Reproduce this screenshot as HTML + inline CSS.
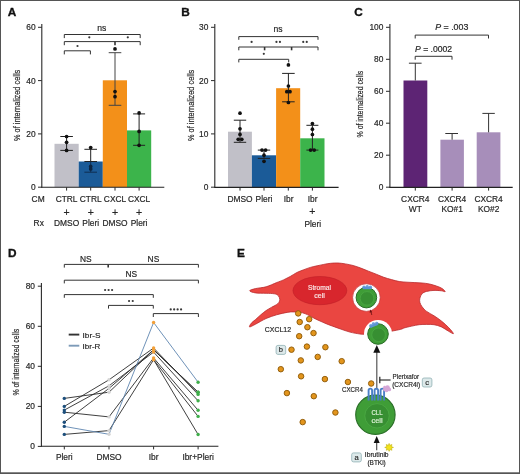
<!DOCTYPE html>
<html><head><meta charset="utf-8"><style>
html,body{margin:0;padding:0;background:#fff;}
#wrap{position:relative;width:520px;height:474px;overflow:hidden;background:#fff;}
svg{position:absolute;left:0;top:0;will-change:transform;}
text{font-family:"Liberation Sans", sans-serif;}
.t{stroke-width:0.18px;}
</style></head><body><div id="wrap">
<svg width="520" height="474" viewBox="0 0 520 474">
<rect x="0" y="0" width="520" height="474" fill="#fff"/>
<text x="7.8" y="15.6" font-size="11.8" text-anchor="start" fill="#111" font-weight="bold" stroke="#111" stroke-width="0.35">A</text>
<line x1="41.8" y1="24" x2="41.8" y2="187.7" stroke="#2a2a2a" stroke-width="1.1"/>
<line x1="38" y1="27.3" x2="41.8" y2="27.3" stroke="#2a2a2a" stroke-width="1"/>
<text x="35.6" y="30.3" font-size="8.4" text-anchor="end" fill="#262626" font-weight="normal" stroke="#262626" stroke-width="0.18" >60</text>
<line x1="38" y1="80.6" x2="41.8" y2="80.6" stroke="#2a2a2a" stroke-width="1"/>
<text x="35.6" y="83.6" font-size="8.4" text-anchor="end" fill="#262626" font-weight="normal" stroke="#262626" stroke-width="0.18" >40</text>
<line x1="38" y1="133.9" x2="41.8" y2="133.9" stroke="#2a2a2a" stroke-width="1"/>
<text x="35.6" y="136.9" font-size="8.4" text-anchor="end" fill="#262626" font-weight="normal" stroke="#262626" stroke-width="0.18" >20</text>
<line x1="38" y1="187.2" x2="41.8" y2="187.2" stroke="#2a2a2a" stroke-width="1"/>
<text x="35.6" y="190.2" font-size="8.4" text-anchor="end" fill="#262626" font-weight="normal" stroke="#262626" stroke-width="0.18" >0</text>
<text transform="translate(20.0,105.4) rotate(-90)" font-size="8.8" text-anchor="middle" fill="#262626" stroke="#262626" stroke-width="0.18" textLength="71.2" lengthAdjust="spacingAndGlyphs">% of internalized cells</text>
<rect x="54.5" y="143.8" width="24.2" height="43.39999999999998" fill="#c1c0c8" />
<rect x="78.7" y="161.5" width="24.1" height="25.69999999999999" fill="#1b5b98" />
<rect x="102.8" y="80.3" width="24.2" height="106.89999999999999" fill="#f39019" />
<rect x="127.0" y="130.4" width="24.2" height="56.79999999999998" fill="#3cb44b" />
<line x1="41.3" y1="187.3" x2="164.3" y2="187.3" stroke="#222" stroke-width="1.1"/>
<line x1="66.6" y1="187.3" x2="66.6" y2="190.6" stroke="#2a2a2a" stroke-width="1"/>
<line x1="90.7" y1="187.3" x2="90.7" y2="190.6" stroke="#2a2a2a" stroke-width="1"/>
<line x1="115" y1="187.3" x2="115" y2="190.6" stroke="#2a2a2a" stroke-width="1"/>
<line x1="139.1" y1="187.3" x2="139.1" y2="190.6" stroke="#2a2a2a" stroke-width="1"/>
<line x1="66.6" y1="136.5" x2="66.6" y2="150.4" stroke="#222" stroke-width="1"/>
<line x1="60.3" y1="136.5" x2="72.89999999999999" y2="136.5" stroke="#222" stroke-width="1"/>
<line x1="60.3" y1="150.4" x2="72.89999999999999" y2="150.4" stroke="#222" stroke-width="1"/>
<circle cx="66.6" cy="136.5" r="1.85" fill="#111" />
<circle cx="66.6" cy="142.3" r="1.85" fill="#111" />
<circle cx="66.6" cy="150.4" r="1.85" fill="#111" />
<line x1="90.7" y1="149.3" x2="90.7" y2="161.5" stroke="#222" stroke-width="1"/>
<line x1="84.4" y1="149.3" x2="97.0" y2="149.3" stroke="#222" stroke-width="1"/>
<line x1="84.4" y1="161.5" x2="97.0" y2="161.5" stroke="#222" stroke-width="1"/>
<line x1="90.7" y1="161.5" x2="90.7" y2="172.2" stroke="#0f2e50" stroke-width="1"/>
<line x1="84.4" y1="172.2" x2="97" y2="172.2" stroke="#0f2e50" stroke-width="1"/>
<circle cx="90.7" cy="147.6" r="1.85" fill="#111" />
<circle cx="90.7" cy="166.4" r="1.85" fill="#0c2440" />
<circle cx="90.7" cy="169.0" r="1.85" fill="#0c2440" />
<line x1="115" y1="52.7" x2="115" y2="105.3" stroke="#444" stroke-width="1"/>
<line x1="108.7" y1="52.7" x2="121.3" y2="52.7" stroke="#444" stroke-width="1"/>
<line x1="108.7" y1="105.3" x2="121.3" y2="105.3" stroke="#444" stroke-width="1"/>
<circle cx="115" cy="48.9" r="1.85" fill="#111" />
<circle cx="115" cy="91.6" r="1.85" fill="#111" />
<circle cx="115" cy="96.7" r="1.85" fill="#111" />
<line x1="139.1" y1="113.9" x2="139.1" y2="145.3" stroke="#222" stroke-width="1"/>
<line x1="133.1" y1="113.9" x2="145.1" y2="113.9" stroke="#222" stroke-width="1"/>
<line x1="133.1" y1="145.3" x2="145.1" y2="145.3" stroke="#222" stroke-width="1"/>
<circle cx="139.1" cy="112.9" r="1.85" fill="#111" />
<circle cx="139.1" cy="131.4" r="1.85" fill="#111" />
<circle cx="139.1" cy="145.3" r="1.85" fill="#111" />
<text x="101.8" y="31.1" font-size="8.6" text-anchor="middle" fill="#262626" font-weight="normal" stroke="#262626" stroke-width="0.18" >ns</text>
<polyline points="64.3,38.1 64.3,34.5 140.2,34.5 140.2,38.1" stroke="#333" stroke-width="1" fill="none" />
<circle cx="89.3" cy="37.3" r="1.1" fill="#383838" />
<circle cx="127.8" cy="37.3" r="1.1" fill="#383838" />
<polyline points="64.3,45.2 64.3,41.6 140.2,41.6 140.2,45.2" stroke="#333" stroke-width="1" fill="none" />
<line x1="115" y1="41.6" x2="115" y2="45.2" stroke="#333" stroke-width="1.6"/>
<circle cx="77.5" cy="46.0" r="1.1" fill="#383838" />
<polyline points="64.3,54.4 64.3,50.8 90.4,50.8 90.4,54.4" stroke="#333" stroke-width="1" fill="none" />
<text x="31.6" y="201.5" font-size="8.4" text-anchor="start" fill="#262626" font-weight="normal" stroke="#262626" stroke-width="0.18" >CM</text>
<text x="33.6" y="226.1" font-size="8.4" text-anchor="start" fill="#262626" font-weight="normal" stroke="#262626" stroke-width="0.18" >Rx</text>
<text x="66.6" y="201.5" font-size="8.4" text-anchor="middle" fill="#262626" font-weight="normal" stroke="#262626" stroke-width="0.18" >CTRL</text>
<text x="66.6" y="215.6" font-size="10.5" text-anchor="middle" fill="#262626" font-weight="normal" stroke="#262626" stroke-width="0.18" >+</text>
<text x="66.6" y="226.1" font-size="8.4" text-anchor="middle" fill="#262626" font-weight="normal" stroke="#262626" stroke-width="0.18" >DMSO</text>
<text x="90.7" y="201.5" font-size="8.4" text-anchor="middle" fill="#262626" font-weight="normal" stroke="#262626" stroke-width="0.18" >CTRL</text>
<text x="90.7" y="215.6" font-size="10.5" text-anchor="middle" fill="#262626" font-weight="normal" stroke="#262626" stroke-width="0.18" >+</text>
<text x="90.7" y="226.1" font-size="8.4" text-anchor="middle" fill="#262626" font-weight="normal" stroke="#262626" stroke-width="0.18" >Pleri</text>
<text x="115" y="201.5" font-size="8.4" text-anchor="middle" fill="#262626" font-weight="normal" stroke="#262626" stroke-width="0.18" >CXCL</text>
<text x="115" y="215.6" font-size="10.5" text-anchor="middle" fill="#262626" font-weight="normal" stroke="#262626" stroke-width="0.18" >+</text>
<text x="115" y="226.1" font-size="8.4" text-anchor="middle" fill="#262626" font-weight="normal" stroke="#262626" stroke-width="0.18" >DMSO</text>
<text x="139.1" y="201.5" font-size="8.4" text-anchor="middle" fill="#262626" font-weight="normal" stroke="#262626" stroke-width="0.18" >CXCL</text>
<text x="139.1" y="215.6" font-size="10.5" text-anchor="middle" fill="#262626" font-weight="normal" stroke="#262626" stroke-width="0.18" >+</text>
<text x="139.1" y="226.1" font-size="8.4" text-anchor="middle" fill="#262626" font-weight="normal" stroke="#262626" stroke-width="0.18" >Pleri</text>
<text x="181.3" y="16.1" font-size="11.8" text-anchor="start" fill="#111" font-weight="bold" stroke="#111" stroke-width="0.35">B</text>
<line x1="214.8" y1="24" x2="214.8" y2="187.7" stroke="#2a2a2a" stroke-width="1.1"/>
<line x1="211" y1="27.3" x2="214.8" y2="27.3" stroke="#2a2a2a" stroke-width="1"/>
<text x="208.4" y="30.3" font-size="8.4" text-anchor="end" fill="#262626" font-weight="normal" stroke="#262626" stroke-width="0.18" >30</text>
<line x1="211" y1="80.6" x2="214.8" y2="80.6" stroke="#2a2a2a" stroke-width="1"/>
<text x="208.4" y="83.6" font-size="8.4" text-anchor="end" fill="#262626" font-weight="normal" stroke="#262626" stroke-width="0.18" >20</text>
<line x1="211" y1="133.9" x2="214.8" y2="133.9" stroke="#2a2a2a" stroke-width="1"/>
<text x="208.4" y="136.9" font-size="8.4" text-anchor="end" fill="#262626" font-weight="normal" stroke="#262626" stroke-width="0.18" >10</text>
<line x1="211" y1="187.2" x2="214.8" y2="187.2" stroke="#2a2a2a" stroke-width="1"/>
<text x="208.4" y="190.2" font-size="8.4" text-anchor="end" fill="#262626" font-weight="normal" stroke="#262626" stroke-width="0.18" >0</text>
<text transform="translate(193.9,105.4) rotate(-90)" font-size="8.8" text-anchor="middle" fill="#262626" stroke="#262626" stroke-width="0.18" textLength="71.2" lengthAdjust="spacingAndGlyphs">% of internalized cells</text>
<rect x="228.0" y="131.7" width="23.9" height="55.5" fill="#c1c0c8" />
<rect x="251.9" y="155.3" width="24.2" height="31.899999999999977" fill="#1b5b98" />
<rect x="276.1" y="88.2" width="24.1" height="98.99999999999999" fill="#f39019" />
<rect x="300.2" y="138.3" width="24.3" height="48.89999999999998" fill="#3cb44b" />
<line x1="214.3" y1="187.4" x2="338.6" y2="187.4" stroke="#222" stroke-width="1.1"/>
<line x1="240" y1="187.4" x2="240" y2="190.6" stroke="#2a2a2a" stroke-width="1"/>
<line x1="264" y1="187.4" x2="264" y2="190.6" stroke="#2a2a2a" stroke-width="1"/>
<line x1="288.3" y1="187.4" x2="288.3" y2="190.6" stroke="#2a2a2a" stroke-width="1"/>
<line x1="312.4" y1="187.4" x2="312.4" y2="190.6" stroke="#2a2a2a" stroke-width="1"/>
<line x1="240" y1="120.2" x2="240" y2="142.3" stroke="#222" stroke-width="1"/>
<line x1="233.8" y1="120.2" x2="246.2" y2="120.2" stroke="#222" stroke-width="1"/>
<line x1="233.8" y1="142.3" x2="246.2" y2="142.3" stroke="#222" stroke-width="1"/>
<circle cx="240" cy="113.2" r="1.85" fill="#111" />
<circle cx="240" cy="128.8" r="1.85" fill="#111" />
<circle cx="240" cy="134.4" r="1.85" fill="#111" />
<circle cx="238.2" cy="139.3" r="1.85" fill="#111" />
<circle cx="241.8" cy="139.3" r="1.85" fill="#111" />
<line x1="264" y1="150.1" x2="264" y2="158.4" stroke="#222" stroke-width="1"/>
<line x1="257.8" y1="150.1" x2="270.2" y2="150.1" stroke="#222" stroke-width="1"/>
<line x1="257.8" y1="158.4" x2="270.2" y2="158.4" stroke="#222" stroke-width="1"/>
<circle cx="262" cy="150.1" r="1.85" fill="#111" />
<circle cx="265.6" cy="150.1" r="1.85" fill="#111" />
<circle cx="264" cy="155.2" r="1.85" fill="#111" />
<circle cx="264" cy="161.3" r="1.85" fill="#111" />
<line x1="288.4" y1="73.4" x2="288.4" y2="101.8" stroke="#222" stroke-width="1"/>
<line x1="282.09999999999997" y1="73.4" x2="294.7" y2="73.4" stroke="#222" stroke-width="1"/>
<line x1="282.09999999999997" y1="101.8" x2="294.7" y2="101.8" stroke="#222" stroke-width="1"/>
<circle cx="288.4" cy="64.9" r="1.85" fill="#111" />
<circle cx="288.4" cy="86.0" r="1.85" fill="#111" />
<circle cx="286.8" cy="91.7" r="1.85" fill="#111" />
<circle cx="290" cy="91.7" r="1.85" fill="#111" />
<circle cx="288.4" cy="102.5" r="1.85" fill="#111" />
<line x1="312.4" y1="125.3" x2="312.4" y2="150.1" stroke="#222" stroke-width="1"/>
<line x1="306.4" y1="125.3" x2="318.4" y2="125.3" stroke="#222" stroke-width="1"/>
<line x1="306.4" y1="150.1" x2="318.4" y2="150.1" stroke="#222" stroke-width="1"/>
<circle cx="312.4" cy="123.5" r="1.85" fill="#111" />
<circle cx="312.4" cy="129.2" r="1.85" fill="#111" />
<circle cx="312.4" cy="134.5" r="1.85" fill="#111" />
<circle cx="310.6" cy="150.1" r="1.85" fill="#111" />
<circle cx="314.2" cy="150.1" r="1.85" fill="#111" />
<text x="278" y="32.2" font-size="8.6" text-anchor="middle" fill="#262626" font-weight="normal" stroke="#262626" stroke-width="0.18" >ns</text>
<polyline points="238.8,39.800000000000004 238.8,36.6 318,36.6 318,39.800000000000004" stroke="#333" stroke-width="1" fill="none" />
<circle cx="251.6" cy="41.9" r="1.1" fill="#383838" />
<circle cx="276.45" cy="41.9" r="1.1" fill="#383838" />
<circle cx="279.95" cy="41.9" r="1.1" fill="#383838" />
<circle cx="303.25" cy="41.9" r="1.1" fill="#383838" />
<circle cx="306.75" cy="41.9" r="1.1" fill="#383838" />
<polyline points="238.8,50.3 238.8,47 318,47 318,50.3" stroke="#333" stroke-width="1" fill="none" />
<line x1="264.6" y1="47" x2="264.6" y2="50.3" stroke="#333" stroke-width="1.6"/>
<line x1="291.6" y1="47" x2="291.6" y2="50.3" stroke="#333" stroke-width="1.6"/>
<circle cx="263.8" cy="53.8" r="1.1" fill="#383838" />
<polyline points="238.8,62.4 238.8,59.3 288.7,59.3 288.7,62.4" stroke="#333" stroke-width="1" fill="none" />
<text x="240" y="202" font-size="8.4" text-anchor="middle" fill="#262626" font-weight="normal" stroke="#262626" stroke-width="0.18" >DMSO</text>
<text x="264" y="202" font-size="8.4" text-anchor="middle" fill="#262626" font-weight="normal" stroke="#262626" stroke-width="0.18" >Pleri</text>
<text x="288.6" y="202" font-size="8.4" text-anchor="middle" fill="#262626" font-weight="normal" stroke="#262626" stroke-width="0.18" >Ibr</text>
<text x="312.6" y="202" font-size="8.4" text-anchor="middle" fill="#262626" font-weight="normal" stroke="#262626" stroke-width="0.18" >Ibr</text>
<text x="312.4" y="215.3" font-size="10.5" text-anchor="middle" fill="#262626" font-weight="normal" stroke="#262626" stroke-width="0.18" >+</text>
<text x="312.8" y="226.8" font-size="8.4" text-anchor="middle" fill="#262626" font-weight="normal" stroke="#262626" stroke-width="0.18" >Pleri</text>
<text x="354.3" y="16.2" font-size="11.8" text-anchor="start" fill="#111" font-weight="bold" stroke="#111" stroke-width="0.35">C</text>
<line x1="389.9" y1="24" x2="389.9" y2="187.7" stroke="#2a2a2a" stroke-width="1.1"/>
<line x1="386" y1="27.3" x2="389.9" y2="27.3" stroke="#2a2a2a" stroke-width="1"/>
<text x="383.4" y="30.3" font-size="8.4" text-anchor="end" fill="#262626" font-weight="normal" stroke="#262626" stroke-width="0.18" >100</text>
<line x1="386" y1="59.3" x2="389.9" y2="59.3" stroke="#2a2a2a" stroke-width="1"/>
<text x="383.4" y="62.3" font-size="8.4" text-anchor="end" fill="#262626" font-weight="normal" stroke="#262626" stroke-width="0.18" >80</text>
<line x1="386" y1="91.3" x2="389.9" y2="91.3" stroke="#2a2a2a" stroke-width="1"/>
<text x="383.4" y="94.3" font-size="8.4" text-anchor="end" fill="#262626" font-weight="normal" stroke="#262626" stroke-width="0.18" >60</text>
<line x1="386" y1="123.2" x2="389.9" y2="123.2" stroke="#2a2a2a" stroke-width="1"/>
<text x="383.4" y="126.2" font-size="8.4" text-anchor="end" fill="#262626" font-weight="normal" stroke="#262626" stroke-width="0.18" >40</text>
<line x1="386" y1="155.2" x2="389.9" y2="155.2" stroke="#2a2a2a" stroke-width="1"/>
<text x="383.4" y="158.2" font-size="8.4" text-anchor="end" fill="#262626" font-weight="normal" stroke="#262626" stroke-width="0.18" >20</text>
<line x1="386" y1="187.2" x2="389.9" y2="187.2" stroke="#2a2a2a" stroke-width="1"/>
<text x="383.4" y="190.2" font-size="8.4" text-anchor="end" fill="#262626" font-weight="normal" stroke="#262626" stroke-width="0.18" >0</text>
<text transform="translate(363.1,104.1) rotate(-90)" font-size="9.3" text-anchor="middle" fill="#262626" stroke="#262626" stroke-width="0.18" textLength="66.6" lengthAdjust="spacingAndGlyphs">% of internalized cells</text>
<rect x="403.5" y="80.5" width="23.8" height="106.69999999999999" fill="#5d2474" />
<rect x="440.4" y="139.7" width="23.5" height="47.5" fill="#a78eba" />
<rect x="476.7" y="132.3" width="23.7" height="54.89999999999998" fill="#a78eba" />
<line x1="389.4" y1="187.4" x2="512.7" y2="187.4" stroke="#222" stroke-width="1.1"/>
<line x1="415.3" y1="187.4" x2="415.3" y2="190.6" stroke="#2a2a2a" stroke-width="1"/>
<line x1="452.1" y1="187.4" x2="452.1" y2="190.6" stroke="#2a2a2a" stroke-width="1"/>
<line x1="488.6" y1="187.4" x2="488.6" y2="190.6" stroke="#2a2a2a" stroke-width="1"/>
<line x1="415.3" y1="63.2" x2="415.3" y2="80.5" stroke="#333" stroke-width="1"/>
<line x1="408.9" y1="63.2" x2="421.6" y2="63.2" stroke="#333" stroke-width="1"/>
<line x1="452.1" y1="133.5" x2="452.1" y2="139.7" stroke="#333" stroke-width="1"/>
<line x1="445.3" y1="133.5" x2="458" y2="133.5" stroke="#333" stroke-width="1"/>
<line x1="488.6" y1="113.4" x2="488.6" y2="132.3" stroke="#333" stroke-width="1"/>
<line x1="482.4" y1="113.4" x2="494.8" y2="113.4" stroke="#333" stroke-width="1"/>
<text x="435.2" y="29.7" font-size="8.4" text-anchor="start" fill="#262626" font-weight="normal" textLength="33.2" lengthAdjust="spacingAndGlyphs" stroke="#262626" stroke-width="0.18" ><tspan font-style="italic">P</tspan> = .003</text>
<polyline points="415.2,38.5 415.2,35.1 488.5,35.1 488.5,38.5" stroke="#333" stroke-width="1" fill="none" />
<text x="415.0" y="52.3" font-size="8.4" text-anchor="start" fill="#262626" font-weight="normal" textLength="37.2" lengthAdjust="spacingAndGlyphs" stroke="#262626" stroke-width="0.18" ><tspan font-style="italic">P</tspan> = .0002</text>
<polyline points="415.2,59.699999999999996 415.2,56.3 452,56.3 452,59.699999999999996" stroke="#333" stroke-width="1" fill="none" />
<text x="415.3" y="202" font-size="8.4" text-anchor="middle" fill="#262626" font-weight="normal" stroke="#262626" stroke-width="0.18" >CXCR4</text>
<text x="415.3" y="212.2" font-size="8.4" text-anchor="middle" fill="#262626" font-weight="normal" stroke="#262626" stroke-width="0.18" >WT</text>
<text x="452.1" y="202" font-size="8.4" text-anchor="middle" fill="#262626" font-weight="normal" stroke="#262626" stroke-width="0.18" >CXCR4</text>
<text x="452.1" y="212.2" font-size="8.4" text-anchor="middle" fill="#262626" font-weight="normal" stroke="#262626" stroke-width="0.18" >KO#1</text>
<text x="488.6" y="202" font-size="8.4" text-anchor="middle" fill="#262626" font-weight="normal" stroke="#262626" stroke-width="0.18" >CXCR4</text>
<text x="488.6" y="212.2" font-size="8.4" text-anchor="middle" fill="#262626" font-weight="normal" stroke="#262626" stroke-width="0.18" >KO#2</text>
<text x="7.9" y="256.9" font-size="11.8" text-anchor="start" fill="#111" font-weight="bold" stroke="#111" stroke-width="0.35">D</text>
<line x1="41.4" y1="283" x2="41.4" y2="446.5" stroke="#2a2a2a" stroke-width="1.1"/>
<line x1="37.8" y1="286.2" x2="41.4" y2="286.2" stroke="#2a2a2a" stroke-width="1"/>
<text x="35" y="289.2" font-size="8.4" text-anchor="end" fill="#262626" font-weight="normal" stroke="#262626" stroke-width="0.18" >80</text>
<line x1="37.8" y1="326.3" x2="41.4" y2="326.3" stroke="#2a2a2a" stroke-width="1"/>
<text x="35" y="329.3" font-size="8.4" text-anchor="end" fill="#262626" font-weight="normal" stroke="#262626" stroke-width="0.18" >60</text>
<line x1="37.8" y1="366.3" x2="41.4" y2="366.3" stroke="#2a2a2a" stroke-width="1"/>
<text x="35" y="369.3" font-size="8.4" text-anchor="end" fill="#262626" font-weight="normal" stroke="#262626" stroke-width="0.18" >40</text>
<line x1="37.8" y1="406.4" x2="41.4" y2="406.4" stroke="#2a2a2a" stroke-width="1"/>
<text x="35" y="409.4" font-size="8.4" text-anchor="end" fill="#262626" font-weight="normal" stroke="#262626" stroke-width="0.18" >20</text>
<line x1="37.8" y1="446.4" x2="41.4" y2="446.4" stroke="#2a2a2a" stroke-width="1"/>
<text x="35" y="449.4" font-size="8.4" text-anchor="end" fill="#262626" font-weight="normal" stroke="#262626" stroke-width="0.18" >0</text>
<text transform="translate(18.9,362.2) rotate(-90)" font-size="8.8" text-anchor="middle" fill="#262626" stroke="#262626" stroke-width="0.18" textLength="66.6" lengthAdjust="spacingAndGlyphs">% of internalized cells</text>
<line x1="40.9" y1="446.3" x2="218.4" y2="446.3" stroke="#222" stroke-width="1.1"/>
<line x1="64.3" y1="446.3" x2="64.3" y2="449.4" stroke="#2a2a2a" stroke-width="1"/>
<line x1="109.0" y1="446.3" x2="109.0" y2="449.4" stroke="#2a2a2a" stroke-width="1"/>
<line x1="153.6" y1="446.3" x2="153.6" y2="449.4" stroke="#2a2a2a" stroke-width="1"/>
<line x1="198.1" y1="446.3" x2="198.1" y2="449.4" stroke="#2a2a2a" stroke-width="1"/>
<text x="64.3" y="460.4" font-size="8.4" text-anchor="middle" fill="#262626" font-weight="normal" stroke="#262626" stroke-width="0.18" >Pleri</text>
<text x="109.0" y="460.4" font-size="8.4" text-anchor="middle" fill="#262626" font-weight="normal" stroke="#262626" stroke-width="0.18" >DMSO</text>
<text x="153.6" y="460.4" font-size="8.4" text-anchor="middle" fill="#262626" font-weight="normal" stroke="#262626" stroke-width="0.18" >Ibr</text>
<text x="198.1" y="460.4" font-size="8.4" text-anchor="middle" fill="#262626" font-weight="normal" stroke="#262626" stroke-width="0.18" >Ibr+Pleri</text>
<text x="85.7" y="261.8" font-size="8.4" text-anchor="middle" fill="#262626" font-weight="normal" stroke="#262626" stroke-width="0.18" >NS</text>
<text x="153.4" y="261.8" font-size="8.4" text-anchor="middle" fill="#262626" font-weight="normal" stroke="#262626" stroke-width="0.18" >NS</text>
<polyline points="64.3,267.59999999999997 64.3,264.4 198.4,264.4 198.4,267.59999999999997" stroke="#333" stroke-width="1" fill="none" />
<line x1="108.2" y1="264.4" x2="108.2" y2="267.59999999999997" stroke="#333" stroke-width="1.6"/>
<text x="131.2" y="277.2" font-size="8.4" text-anchor="middle" fill="#262626" font-weight="normal" stroke="#262626" stroke-width="0.18" >NS</text>
<polyline points="64.3,283.4 64.3,280.2 198.4,280.2 198.4,283.4" stroke="#333" stroke-width="1" fill="none" />
<circle cx="105.1" cy="290.0" r="1.1" fill="#383838" />
<circle cx="108.6" cy="290.0" r="1.1" fill="#383838" />
<circle cx="112.1" cy="290.0" r="1.1" fill="#383838" />
<polyline points="64.3,297.8 64.3,294.6 153.3,294.6 153.3,297.8" stroke="#333" stroke-width="1" fill="none" />
<circle cx="129.05" cy="301.0" r="1.1" fill="#383838" />
<circle cx="132.75" cy="301.0" r="1.1" fill="#383838" />
<polyline points="108.5,308.59999999999997 108.5,305.4 153.3,305.4 153.3,308.59999999999997" stroke="#333" stroke-width="1" fill="none" />
<circle cx="170.72" cy="309.4" r="1.1" fill="#383838" />
<circle cx="174.17" cy="309.4" r="1.1" fill="#383838" />
<circle cx="177.62" cy="309.4" r="1.1" fill="#383838" />
<circle cx="181.07" cy="309.4" r="1.1" fill="#383838" />
<polyline points="153.3,317.0 153.3,313.6 198.4,313.6 198.4,317.0" stroke="#333" stroke-width="1" fill="none" />
<line x1="68.7" y1="334.6" x2="79.3" y2="334.6" stroke="#333" stroke-width="1.9"/>
<text x="82.6" y="337.6" font-size="8.0" text-anchor="start" fill="#262626" font-weight="normal" textLength="17.8" lengthAdjust="spacingAndGlyphs" stroke="#262626" stroke-width="0.18" >Ibr-S</text>
<line x1="68.7" y1="345.7" x2="79.3" y2="345.7" stroke="#7d9bb8" stroke-width="1.9"/>
<text x="82.6" y="348.7" font-size="8.0" text-anchor="start" fill="#262626" font-weight="normal" textLength="17.8" lengthAdjust="spacingAndGlyphs" stroke="#262626" stroke-width="0.18" >Ibr-R</text>
<polyline points="64.3,398.4 109.0,392.2 153.6,349.8 198.1,392.3" stroke="#2a2a2a" stroke-width="0.9" fill="none" />
<polyline points="64.3,406.4 109.0,379.8 153.6,348.0 198.1,394.4" stroke="#2a2a2a" stroke-width="0.9" fill="none" />
<polyline points="64.3,410.1 109.0,385.8 153.6,352.1 198.1,400.8" stroke="#2a2a2a" stroke-width="0.9" fill="none" />
<polyline points="64.3,422.2 109.0,388.4 153.6,349.8 198.1,392.3" stroke="#2a2a2a" stroke-width="0.9" fill="none" />
<polyline points="64.3,412.2 109.0,416.9 153.6,357.9 198.1,410.3" stroke="#2a2a2a" stroke-width="0.9" fill="none" />
<polyline points="64.3,434.4 109.0,430.6 153.6,359.7 198.1,416.4" stroke="#2a2a2a" stroke-width="0.9" fill="none" />
<polyline points="64.3,426.4 109.0,434.3 153.6,322.5 198.1,382.2" stroke="#5f86b0" stroke-width="0.9" fill="none" />
<polyline points="153.6,359.7 198.1,434.5" stroke="#2a2a2a" stroke-width="0.9" fill="none" />
<circle cx="64.3" cy="398.4" r="1.7" fill="#1d4f7c" />
<circle cx="109.0" cy="392.2" r="1.7" fill="#d4d4d4" />
<circle cx="153.6" cy="349.8" r="1.7" fill="#f2a03a" />
<circle cx="198.1" cy="392.3" r="1.7" fill="#3fae4a" />
<circle cx="64.3" cy="406.4" r="1.7" fill="#1d4f7c" />
<circle cx="109.0" cy="379.8" r="1.7" fill="#d4d4d4" />
<circle cx="153.6" cy="348.0" r="1.7" fill="#f2a03a" />
<circle cx="198.1" cy="394.4" r="1.7" fill="#3fae4a" />
<circle cx="64.3" cy="410.1" r="1.7" fill="#1d4f7c" />
<circle cx="109.0" cy="385.8" r="1.7" fill="#d4d4d4" />
<circle cx="153.6" cy="352.1" r="1.7" fill="#f2a03a" />
<circle cx="198.1" cy="400.8" r="1.7" fill="#3fae4a" />
<circle cx="64.3" cy="422.2" r="1.7" fill="#1d4f7c" />
<circle cx="109.0" cy="388.4" r="1.7" fill="#d4d4d4" />
<circle cx="153.6" cy="349.8" r="1.7" fill="#f2a03a" />
<circle cx="198.1" cy="392.3" r="1.7" fill="#3fae4a" />
<circle cx="64.3" cy="412.2" r="1.7" fill="#1d4f7c" />
<circle cx="109.0" cy="416.9" r="1.7" fill="#d4d4d4" />
<circle cx="153.6" cy="357.9" r="1.7" fill="#f2a03a" />
<circle cx="198.1" cy="410.3" r="1.7" fill="#3fae4a" />
<circle cx="64.3" cy="434.4" r="1.7" fill="#1d4f7c" />
<circle cx="109.0" cy="430.6" r="1.7" fill="#d4d4d4" />
<circle cx="153.6" cy="359.7" r="1.7" fill="#f2a03a" />
<circle cx="198.1" cy="416.4" r="1.7" fill="#3fae4a" />
<circle cx="64.3" cy="426.4" r="1.7" fill="#1d4f7c" />
<circle cx="109.0" cy="434.3" r="1.7" fill="#d4d4d4" />
<circle cx="153.6" cy="322.5" r="1.7" fill="#f2a03a" />
<circle cx="198.1" cy="382.2" r="1.7" fill="#3fae4a" />
<circle cx="198.1" cy="434.5" r="1.7" fill="#3fae4a" />
<text x="236.9" y="256.7" font-size="11.8" text-anchor="start" fill="#111" font-weight="bold" stroke="#111" stroke-width="0.35">E</text>
<path d="M249.60,290.80 C249.60,290.08 252.75,289.27 255.50,288.60 C258.25,287.93 262.58,287.80 266.10,286.80 C269.62,285.80 273.70,283.75 276.60,282.60 C279.50,281.45 281.23,280.92 283.50,279.90 C285.77,278.88 287.97,277.73 290.20,276.50 C292.43,275.27 294.67,273.62 296.90,272.50 C299.13,271.38 301.35,270.65 303.60,269.80 C305.85,268.95 308.15,268.07 310.40,267.40 C312.65,266.73 314.87,266.30 317.10,265.80 C319.33,265.30 321.55,264.82 323.80,264.40 C326.05,263.98 328.23,263.53 330.60,263.30 C332.97,263.07 335.53,262.90 338.00,263.00 C340.47,263.10 342.88,263.48 345.40,263.90 C347.92,264.32 350.53,264.80 353.10,265.50 C355.67,266.20 358.23,267.15 360.80,268.10 C363.37,269.05 365.93,270.18 368.50,271.20 C371.07,272.22 373.65,273.18 376.20,274.20 C378.75,275.22 381.25,276.40 383.80,277.30 C386.35,278.20 388.93,278.90 391.50,279.60 C394.07,280.30 396.62,281.07 399.20,281.50 C401.78,281.93 404.40,282.02 407.00,282.20 C409.60,282.38 412.27,282.47 414.80,282.60 C417.33,282.73 419.75,282.77 422.20,283.00 C424.65,283.23 427.05,283.47 429.50,284.00 C431.95,284.53 434.80,285.45 436.90,286.20 C439.00,286.95 440.72,287.60 442.10,288.50 C443.48,289.40 445.32,291.22 445.20,291.60 C445.08,291.98 443.27,291.00 441.40,290.80 C439.53,290.60 436.47,290.30 434.00,290.40 C431.53,290.50 428.57,290.87 426.60,291.40 C424.63,291.93 423.32,292.48 422.20,293.60 C421.08,294.72 420.28,296.62 419.90,298.10 C419.52,299.58 419.52,301.03 419.90,302.50 C420.28,303.97 421.08,305.42 422.20,306.90 C423.32,308.38 424.63,309.92 426.60,311.40 C428.57,312.88 431.53,314.20 434.00,315.80 C436.47,317.40 438.95,319.03 441.40,321.00 C443.85,322.97 446.70,325.50 448.70,327.60 C450.70,329.70 453.40,332.98 453.40,333.60 C453.40,334.22 450.70,332.42 448.70,331.30 C446.70,330.18 443.85,328.00 441.40,326.90 C438.95,325.80 436.47,325.12 434.00,324.70 C431.53,324.28 429.07,324.40 426.60,324.40 C424.13,324.40 421.67,324.42 419.20,324.70 C416.73,324.98 414.27,325.57 411.80,326.10 C409.33,326.63 406.23,327.37 404.40,327.90 C402.57,328.43 402.95,328.75 400.80,329.30 C398.65,329.85 394.30,330.65 391.50,331.20 C388.70,331.75 386.25,332.23 384.00,332.60 C381.75,332.97 380.17,333.17 378.00,333.40 C375.83,333.63 373.17,333.85 371.00,334.00 C368.83,334.15 366.83,334.30 365.00,334.30 C363.17,334.30 362.50,334.37 360.00,334.00 C357.50,333.63 353.33,332.97 350.00,332.10 C346.67,331.23 343.33,329.95 340.00,328.80 C336.67,327.65 332.50,326.13 330.00,325.20 C327.50,324.27 326.67,323.90 325.00,323.20 C323.33,322.50 321.67,321.75 320.00,321.00 C318.33,320.25 316.67,319.53 315.00,318.70 C313.33,317.87 311.67,316.85 310.00,316.00 C308.33,315.15 306.67,314.22 305.00,313.60 C303.33,312.98 302.00,312.58 300.00,312.30 C298.00,312.02 295.13,311.88 293.00,311.90 C290.87,311.92 289.93,311.92 287.20,312.40 C284.47,312.88 280.12,313.78 276.60,314.80 C273.08,315.82 269.62,316.93 266.10,318.50 C262.58,320.07 258.25,322.80 255.50,324.20 C252.75,325.60 250.30,327.07 249.60,326.90 C248.90,326.73 250.32,324.42 251.30,323.20 C252.28,321.98 253.92,321.00 255.50,319.60 C257.08,318.20 259.03,316.30 260.80,314.80 C262.57,313.30 264.33,311.83 266.10,310.60 C267.87,309.37 269.65,308.40 271.40,307.40 C273.15,306.40 275.35,305.43 276.60,304.60 C277.85,303.77 278.37,303.28 278.90,302.40 C279.43,301.52 279.92,300.43 279.80,299.30 C279.68,298.17 279.08,296.52 278.20,295.60 C277.32,294.68 276.52,294.18 274.50,293.80 C272.48,293.42 269.27,293.45 266.10,293.30 C262.93,293.15 258.25,293.32 255.50,292.90 C252.75,292.48 249.60,291.52 249.60,290.80 Z" fill="#ea4641" stroke="#b92a2c" stroke-width="0.8"/>
<ellipse cx="319.9" cy="290.6" rx="26.9" ry="14.1" fill="#d8262d" stroke="#c01f26" stroke-width="0.6"/>
<text x="319.5" y="290.4" font-size="7.0" text-anchor="middle" fill="#fbe6e6" font-weight="normal" textLength="23" lengthAdjust="spacingAndGlyphs" stroke="#fbe6e6" stroke-width="0.18" >Stromal</text>
<text x="319.6" y="298.2" font-size="7.0" text-anchor="middle" fill="#fbe6e6" font-weight="normal" stroke="#fbe6e6" stroke-width="0.18" >cell</text>
<circle cx="366.4" cy="297.6" r="13.8" fill="#fff" stroke="#b82025" stroke-width="0.6"/>
<circle cx="366.4" cy="297.6" r="10.3" fill="#3f9d37" stroke="#2a6e27" stroke-width="1"/>
<circle cx="367.0" cy="298.40000000000003" r="6.798000000000001" fill="#378f32" stroke="#4cab45" stroke-width="0.7"/>
<circle cx="364.0" cy="287.3" r="1.7" fill="#6a9edb" />
<circle cx="367.2" cy="286.6" r="1.7" fill="#6a9edb" />
<circle cx="370.4" cy="287.3" r="1.7" fill="#6a9edb" />
<rect x="363" y="287" width="8.4" height="2.2" fill="#5b93d3"/>
<circle cx="378" cy="334" r="14" fill="#fff" />
<circle cx="378" cy="334" r="10.3" fill="#3f9d37" stroke="#2a6e27" stroke-width="1"/>
<circle cx="378.6" cy="334.8" r="6.798000000000001" fill="#378f32" stroke="#4cab45" stroke-width="0.7"/>
<g transform="rotate(-22 373.8 324.6)">
<circle cx="370.6" cy="324.6" r="1.7" fill="#6a9edb" />
<circle cx="373.8" cy="323.9" r="1.7" fill="#6a9edb" />
<circle cx="377.0" cy="324.6" r="1.7" fill="#6a9edb" />
<rect x="369.6" y="324.3" width="8.4" height="2.2" fill="#5b93d3"/></g>
<line x1="371.8" y1="315" x2="370.9" y2="311.5" stroke="#6b1010" stroke-width="0.8"/>
<path d="M370.4,309.6 L372.2,312.2 L369.6,312.6 Z" fill="#6b1010"/>
<line x1="376.8" y1="352" x2="376.8" y2="389.5" stroke="#555" stroke-width="1.2"/>
<path d="M376.8,345 L380.3,352.8 L373.3,352.8 Z" fill="#111"/>
<line x1="379.8" y1="380" x2="390.6" y2="380" stroke="#222" stroke-width="1.1"/>
<line x1="379.8" y1="376.7" x2="379.8" y2="383.3" stroke="#222" stroke-width="1.2"/>
<text x="392.6" y="378.8" font-size="7.0" text-anchor="start" fill="#262626" font-weight="normal" textLength="26.6" lengthAdjust="spacingAndGlyphs" stroke="#262626" stroke-width="0.18" >Plerixafor</text>
<text x="392.2" y="386.9" font-size="7.0" text-anchor="start" fill="#262626" font-weight="normal" textLength="28" lengthAdjust="spacingAndGlyphs" stroke="#262626" stroke-width="0.18" >(CXCR4i)</text>
<rect x="422.3" y="378.0" width="9.6" height="9.0" rx="1.8" fill="#dde9ea" stroke="#8fb0b4" stroke-width="0.8"/>
<text x="427.1" y="384.7" font-size="7.6" text-anchor="middle" fill="#2a2a2a" font-weight="normal" stroke="#2a2a2a" stroke-width="0.18" >c</text>
<rect x="276.1" y="345.4" width="9.6" height="9.0" rx="1.8" fill="#dde9ea" stroke="#8fb0b4" stroke-width="0.8"/>
<text x="280.90000000000003" y="352.09999999999997" font-size="7.6" text-anchor="middle" fill="#2a2a2a" font-weight="normal" stroke="#2a2a2a" stroke-width="0.18" >b</text>
<rect x="351.7" y="452.9" width="9.6" height="9.0" rx="1.8" fill="#dde9ea" stroke="#8fb0b4" stroke-width="0.8"/>
<text x="356.5" y="459.59999999999997" font-size="7.6" text-anchor="middle" fill="#2a2a2a" font-weight="normal" stroke="#2a2a2a" stroke-width="0.18" >a</text>
<text x="342" y="392" font-size="7.0" text-anchor="start" fill="#262626" font-weight="normal" textLength="20.8" lengthAdjust="spacingAndGlyphs" stroke="#262626" stroke-width="0.18" >CXCR4</text>
<text x="264.8" y="331.5" font-size="7.2" text-anchor="start" fill="#262626" font-weight="normal" textLength="26.3" lengthAdjust="spacingAndGlyphs" stroke="#262626" stroke-width="0.18" >CXCL12</text>
<circle cx="375.4" cy="414.7" r="19.7" fill="#3f9d37" stroke="#2a6e27" stroke-width="1.1"/>
<circle cx="377" cy="415.8" r="12.2" fill="#378f32" stroke="#4cab45" stroke-width="0.8"/>
<text x="377" y="414.8" font-size="7.4" text-anchor="middle" fill="#dff3d8" font-weight="normal" textLength="11.2" lengthAdjust="spacingAndGlyphs" stroke="#dff3d8" stroke-width="0.18" >CLL</text>
<text x="377" y="422.8" font-size="7.4" text-anchor="middle" fill="#dff3d8" font-weight="normal" stroke="#dff3d8" stroke-width="0.18" >cell</text>
<path d="M368.6,400.5 V390.4 a1.75,1.75 0 0 1 3.5,0 V400.5" stroke="#4a7fc6" stroke-width="1.9" fill="none"/>
<path d="M374.6,400.5 V390.4 a1.75,1.75 0 0 1 3.5,0 V400.5" stroke="#4a7fc6" stroke-width="1.9" fill="none"/>
<path d="M380.6,400.5 V390.4 a1.75,1.75 0 0 1 3.5,0 V400.5" stroke="#4a7fc6" stroke-width="1.9" fill="none"/>
<circle cx="385.2" cy="389.2" r="2.2" fill="#d5a6d6" />
<circle cx="387.5" cy="387.6" r="2.3" fill="#d5a6d6" />
<circle cx="389.2" cy="389.4" r="1.9" fill="#d5a6d6" />
<circle cx="386.6" cy="390.4" r="1.8" fill="#d5a6d6" />
<circle cx="384.6" cy="387.2" r="1.4" fill="#d5a6d6" />
<line x1="376.7" y1="441" x2="376.7" y2="450.3" stroke="#444" stroke-width="1.1"/>
<path d="M376.7,436 L379.7,443 L373.7,443 Z" fill="#111"/>
<path d="M389.1,443.4 l0.8,1.9 l2.1,-0.8 l-0.6,2.1 l2.1,0.8 l-2.1,0.8 l0.6,2.1 l-2.1,-0.8 l-0.8,1.9 l-0.8,-1.9 l-2.1,0.8 l0.6,-2.1 l-2.1,-0.8 l2.1,-0.8 l-0.6,-2.1 l2.1,0.8 Z" fill="#f2e21a" stroke="#b9a900" stroke-width="0.5"/>
<text x="364.8" y="456.9" font-size="7.0" text-anchor="start" fill="#262626" font-weight="normal" textLength="23.8" lengthAdjust="spacingAndGlyphs" stroke="#262626" stroke-width="0.18" >Ibrutinib</text>
<text x="367.4" y="465.3" font-size="7.0" text-anchor="start" fill="#262626" font-weight="normal" textLength="18.4" lengthAdjust="spacingAndGlyphs" stroke="#262626" stroke-width="0.18" >(BTKi)</text>
<circle cx="298.2" cy="313.4" r="2.75" fill="#e3951c" stroke="#94600e" stroke-width="1"/>
<circle cx="299.7" cy="322" r="2.75" fill="#e3951c" stroke="#94600e" stroke-width="1"/>
<circle cx="309.2" cy="319.2" r="2.75" fill="#e3951c" stroke="#94600e" stroke-width="1"/>
<circle cx="307.4" cy="327.2" r="2.75" fill="#e3951c" stroke="#94600e" stroke-width="1"/>
<circle cx="313.5" cy="333.1" r="2.75" fill="#e3951c" stroke="#94600e" stroke-width="1"/>
<circle cx="299.2" cy="336.2" r="2.75" fill="#e3951c" stroke="#94600e" stroke-width="1"/>
<circle cx="291.5" cy="349.7" r="2.75" fill="#e3951c" stroke="#94600e" stroke-width="1"/>
<circle cx="306.9" cy="346.6" r="2.75" fill="#e3951c" stroke="#94600e" stroke-width="1"/>
<circle cx="325.4" cy="347.2" r="2.75" fill="#e3951c" stroke="#94600e" stroke-width="1"/>
<circle cx="317.7" cy="356.9" r="2.75" fill="#e3951c" stroke="#94600e" stroke-width="1"/>
<circle cx="300.8" cy="360.4" r="2.75" fill="#e3951c" stroke="#94600e" stroke-width="1"/>
<circle cx="341.7" cy="361.2" r="2.75" fill="#e3951c" stroke="#94600e" stroke-width="1"/>
<circle cx="280.8" cy="369.2" r="2.75" fill="#e3951c" stroke="#94600e" stroke-width="1"/>
<circle cx="301.1" cy="376.3" r="2.75" fill="#e3951c" stroke="#94600e" stroke-width="1"/>
<circle cx="324.9" cy="379.1" r="2.75" fill="#e3951c" stroke="#94600e" stroke-width="1"/>
<circle cx="347.9" cy="382" r="2.75" fill="#e3951c" stroke="#94600e" stroke-width="1"/>
<circle cx="286.9" cy="393.1" r="2.75" fill="#e3951c" stroke="#94600e" stroke-width="1"/>
<circle cx="313.8" cy="396.2" r="2.75" fill="#e3951c" stroke="#94600e" stroke-width="1"/>
<circle cx="335.4" cy="412.5" r="2.75" fill="#e3951c" stroke="#94600e" stroke-width="1"/>
<circle cx="302.7" cy="422.1" r="2.75" fill="#e3951c" stroke="#94600e" stroke-width="1"/>
<circle cx="371.2" cy="383.5" r="2.75" fill="#e3951c" stroke="#94600e" stroke-width="1"/>
<rect x="0.5" y="0.5" width="519" height="472.6" fill="none" stroke="#555" stroke-width="1"/>
<line x1="0" y1="473.3" x2="520" y2="473.3" stroke="#555" stroke-width="1.4"/>
</svg></div></body></html>
